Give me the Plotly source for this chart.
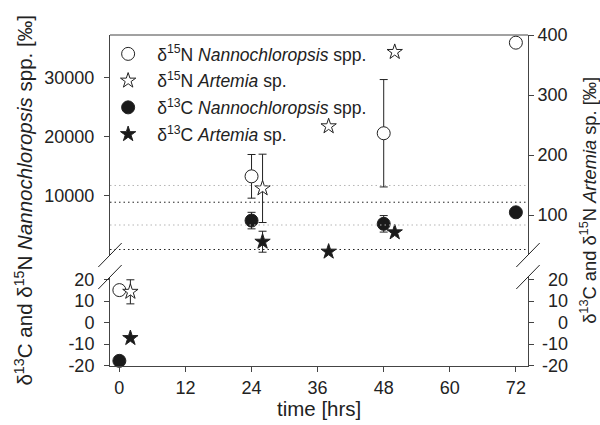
import plotly.graph_objects as go

# Sampling times (hours after start)
hours_nanno = [0, 24, 48, 72]
hours_artemia = [2, 26, 38, 50]

# Isotope ratios (per mil) and one standard deviation
d15n_nanno = [15.1, 13250, 20550, 35900]
d15n_nanno_sd = [0, 3700, 9100, 0]
d13c_nanno = [-17.8, 5750, 5200, 7150]
d13c_nanno_sd = [0, 1400, 1400, 0]
d15n_artemia = [14.3, 144.5, 248, 372]
d15n_artemia_sd = [5.6, 57, 0, 0]
d13c_artemia = [-7.2, 55.5, 38.9, 71.1]
d13c_artemia_sd = [0, 17.5, 0, 0]

# Horizontal reference levels on the Nannochloropsis axis
ref_black = [8860, 850]
ref_grey = [11700, 5000]

# Tick positions and labels
x_ticks = [0, 12, 24, 36, 48, 60, 72]
left_upper_ticks = [10000, 20000, 30000]
right_upper_ticks = [100, 200, 300, 400]
lower_ticks = [-20, -10, 0, 10, 20]
lower_tick_text = ["-20", "-10", "0", "10", "20"]

FONT = "Liberation Sans, Arial, sans-serif"
INK = "#222222"
AXIS = "#444444"
BREAK = 25  # values above this belong to the enriched (upper) panel

# panel geometry in paper units
UPPER = [0.3353, 1.0]
LOWER = [0.0, 0.2689]

series = [
    ("δ<sup>15</sup>N <i>Nannochloropsis</i> spp.", hours_nanno, d15n_nanno, d15n_nanno_sd,
     "circle", "white", 13, "y", "y3"),
    ("δ<sup>15</sup>N <i>Artemia</i> sp.", hours_artemia, d15n_artemia, d15n_artemia_sd,
     "star", "white", 11.5, "y2", "y4"),
    ("δ<sup>13</sup>C <i>Nannochloropsis</i> spp.", hours_nanno, d13c_nanno, d13c_nanno_sd,
     "circle", "#1a1a1a", 13, "y", "y3"),
    ("δ<sup>13</sup>C <i>Artemia</i> sp.", hours_artemia, d13c_artemia, d13c_artemia_sd,
     "star", "#1a1a1a", 11.5, "y2", "y4"),
]

fig = go.Figure()
for i, (name, hrs, vals, sd, sym, fill, size, y_up, y_low) in enumerate(series):
    for upper in (True, False):
        idx = [k for k, v in enumerate(vals) if (abs(v) > BREAK) == upper]
        fig.add_trace(go.Scatter(
            x=[hrs[k] for k in idx],
            y=[vals[k] for k in idx],
            mode="markers",
            name=name,
            legendgroup=f"g{i}",
            showlegend=upper,
            xaxis="x",
            yaxis=y_up if upper else y_low,
            cliponaxis=False,
            marker=dict(symbol=sym, size=size, color=fill,
                        line=dict(color=INK, width=1)),
            error_y=dict(type="data", array=[sd[k] for k in idx], visible=True,
                         color=INK, thickness=1, width=4),
        ))

common = dict(showgrid=False, zeroline=False, showline=True, linecolor=AXIS,
              linewidth=1, ticks="outside", ticklen=5, tickcolor=AXIS,
              tickfont=dict(family=FONT, size=18, color=INK))

shapes = []
for lvl in ref_grey:
    shapes.append(dict(type="line", xref="paper", x0=0, x1=1, yref="y", y0=lvl, y1=lvl,
                       line=dict(color="#b5b5b5", width=1, dash="1.5px,3px")))
for lvl in ref_black:
    shapes.append(dict(type="line", xref="paper", x0=0, x1=1, yref="y", y0=lvl, y1=lvl,
                       line=dict(color="#222222", width=1, dash="1.5px,3px")))
# top frame edge
shapes.append(dict(type="line", xref="paper", yref="paper", x0=0, x1=1, y0=1, y1=1,
                   line=dict(color=AXIS, width=1)))
# axis-break marks
for xa in (0, 1):
    for ya in (UPPER[0], LOWER[1]):
        shapes.append(dict(type="line", xref="paper", yref="paper",
                           xsizemode="pixel", xanchor=xa, x0=-11.7, x1=11.7,
                           ysizemode="pixel", yanchor=ya, y0=-12, y1=12,
                           line=dict(color=INK, width=1)))

annotations = [
    dict(text="δ<sup>13</sup>C and δ<sup>15</sup>N <i>Nannochloropsis</i> spp. [‰]",
         xref="paper", yref="paper", x=-0.208, y=0.5, textangle=-90, showarrow=False,
         xanchor="center", yanchor="middle", font=dict(family=FONT, size=20.5, color=INK)),
    dict(text="δ<sup>13</sup>C and δ<sup>15</sup>N <i>Artemia</i> sp. [‰]",
         xref="paper", yref="paper", x=1.142, y=0.5, textangle=-90, showarrow=False,
         xanchor="center", yanchor="middle", font=dict(family=FONT, size=18.3, color=INK)),
    dict(text="time [hrs]", xref="paper", yref="paper", x=0.5, y=-0.128, showarrow=False,
         xanchor="center", yanchor="middle", font=dict(family=FONT, size=20.5, color=INK)),
]
# right-aligned tick labels of the lower right axis
for val, txt in zip(lower_ticks, lower_tick_text):
    annotations.append(dict(text=txt, xref="paper", yref="y4", x=1, y=val, xshift=42,
                            xanchor="right", yanchor="middle", showarrow=False,
                            font=dict(family=FONT, size=18, color=INK)))

fig.update_layout(
    width=600, height=425,
    margin=dict(l=110, r=72, t=35, b=59),
    paper_bgcolor="white", plot_bgcolor="white",
    font=dict(family=FONT, color=INK),
    showlegend=True,
    legend=dict(x=-0.026, y=0.997, xanchor="left", yanchor="top",
                bgcolor="rgba(0,0,0,0)", borderwidth=0, itemwidth=48,
                traceorder="grouped", tracegroupgap=1,
                font=dict(family=FONT, size=17.5, color=INK)),
    xaxis=dict(**common, range=[-1.7, 74.2], anchor="y3", tickvals=x_ticks,
               ticklabelstandoff=0),
    yaxis=dict(**common, domain=UPPER, range=[-85, 37200], anchor="x",
               tickvals=left_upper_ticks, tickformat="d", ticklabelstandoff=6),
    yaxis2=dict(**common, domain=UPPER, range=[33.3, 400.3], anchor="x", side="right",
                overlaying="y", tickvals=right_upper_ticks, tickformat="d"),
    yaxis3=dict(**common, domain=LOWER, range=[-20.2, 21.2], anchor="x",
                tickvals=lower_ticks, ticktext=lower_tick_text, ticklabelstandoff=6),
    yaxis4=dict(**common, domain=LOWER, range=[-20.2, 21.2], anchor="x", side="right",
                overlaying="y3", tickvals=lower_ticks, showticklabels=False),
    shapes=shapes,
    annotations=annotations,
)

fig.write_html("out.html")
